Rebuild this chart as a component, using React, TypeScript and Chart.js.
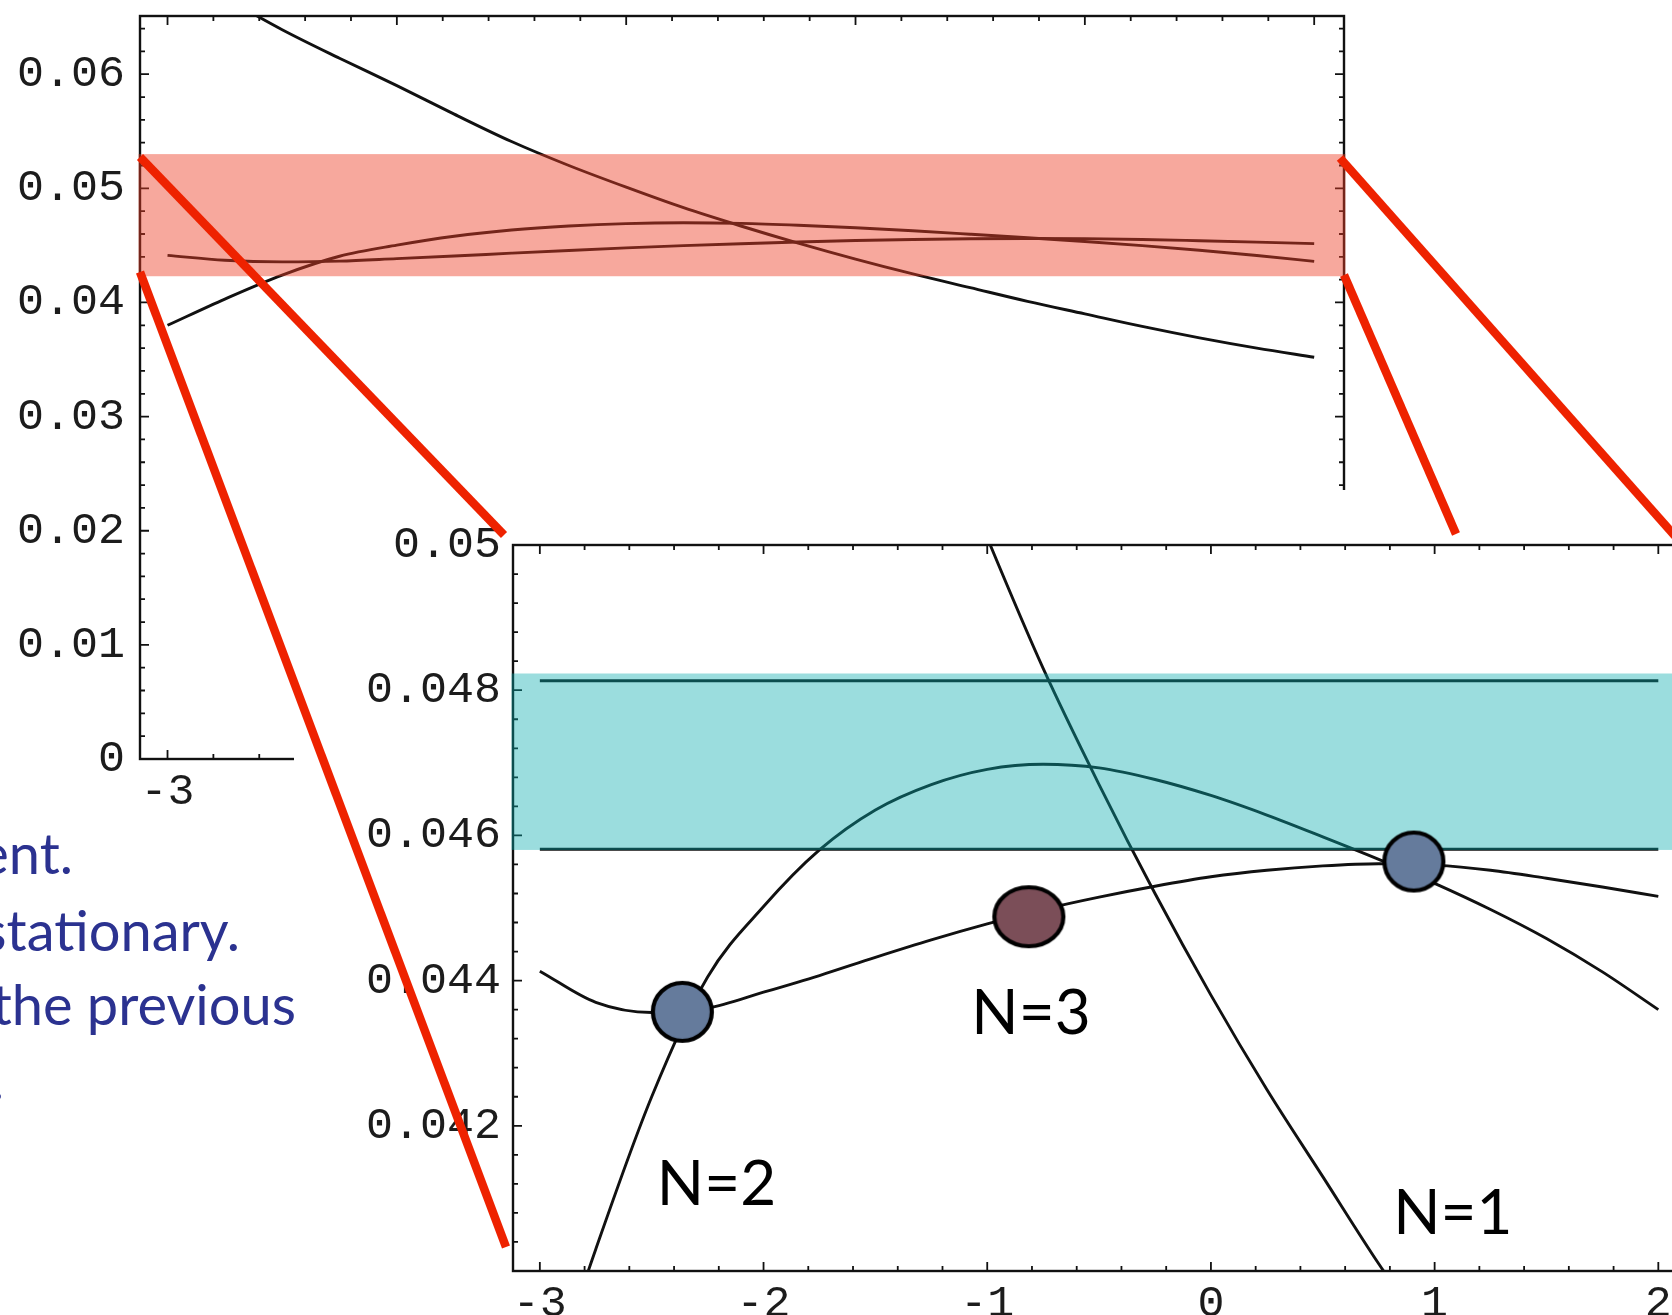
import React, { useEffect, useRef } from "react";
import { Chart, registerables } from "chart.js";

Chart.register(...registerables);

// ---------------- data ----------------
const xValues = [-3, -2.75, -2.5, -2.25, -2, -1.75, -1.5, -1.25, -1, -0.75, -0.5, -0.25, 0, 0.25, 0.5, 0.75, 1, 1.25, 1.5, 1.75, 2];
const curveN1 = [0.0696, 0.0667, 0.0639, 0.0614, 0.059, 0.0565, 0.0541, 0.052, 0.0501, 0.0483, 0.0467, 0.0452, 0.0438, 0.0425, 0.0413, 0.0401, 0.039, 0.0379, 0.0369, 0.036, 0.0352];
const curveN2 = [0.038, 0.0403, 0.0424, 0.04405, 0.04502, 0.0458, 0.04635, 0.0467, 0.04691, 0.04698, 0.04693, 0.04677, 0.04655, 0.04628, 0.04598, 0.04567, 0.04534, 0.04498, 0.04458, 0.04412, 0.0436];
const curveN3 = [0.04413, 0.0437, 0.04356, 0.04362, 0.04384, 0.04407, 0.04432, 0.04456, 0.04478, 0.04498, 0.04515, 0.0453, 0.04543, 0.04552, 0.04558, 0.04561, 0.04559, 0.04552, 0.04541, 0.04529, 0.04516];
const limitLineX = [-3, 2];
const limitLineUpper = [0.04813, 0.04813];
const limitLineLower = [0.04581, 0.04581];
const markerX = [-2.363, -0.814, 0.907];
const markerY = [0.04357, 0.04488, 0.04564];
const markerKind = ["blue", "brown", "blue"];
const curveLabelText = ["N=2", "N=3", "N=1"];
const curveLabelX = [-2.477, -1.071, 0.815];
const curveLabelY = [0.04091, 0.04327, 0.04051];
const xTickValues = [-3, -2, -1, 0, 1, 2];
const mainYTickValues = [0, 0.01, 0.02, 0.03, 0.04, 0.05, 0.06];
const zoomYTickValues = [0.042, 0.044, 0.046, 0.048, 0.05];
const mainBand = [0.0423, 0.053];
const zoomBand = [0.0458, 0.04823];
const slideLines = ["ent.", "stationary.", "the previous", "f."];

// ---------------- layout / style ----------------
const W = 1672;
const H = 1315;
const X_RANGE = [-3.12, 2.13];
const MAIN = { left: 0, top: 0, width: 1672, height: 830, area: { left: 140, top: 16, right: 1344, bottom: 759 }, yRange: [0, 0.0651] };
const ZOOM = { left: 294, top: 490, width: 1420, height: 825, area: { left: 219, top: 55, right: 1393.4, bottom: 781 }, yRange: [0.04, 0.05] };
const TICK_FONT = { family: "'Liberation Mono', 'DejaVu Sans Mono', monospace", size: 45 };
const TICK_COLOR = "#1c1c1c";
const LINE_COLOR = "#111";
const PINK = "rgba(238, 62, 38, 0.45)";
const CYAN = "rgba(5, 170, 172, 0.4)";
const MARKER_FILL: Record<string, string> = { blue: "#657B9C", brown: "#7B4E58" };
const MARKER_SIZE: Record<string, [number, number]> = { blue: [59, 58], brown: [69, 59] };
const connectorLines = [
  [140, 157, 504, 535],
  [140, 272, 506, 1247],
  [1340, 158, 1690, 553],
  [1344, 275, 1456, 534],
];
const slideRightEdge = [73, 240, 296, 4];
const slideBaseline = [874, 951, 1025, 1100];

function makeMarker(kind: string): HTMLCanvasElement {
  const [w, h] = MARKER_SIZE[kind];
  const c = document.createElement("canvas");
  c.width = w + 8;
  c.height = h + 8;
  const g = c.getContext("2d")!;
  g.beginPath();
  g.ellipse(c.width / 2, c.height / 2, w / 2, h / 2, 0, 0, Math.PI * 2);
  g.fillStyle = MARKER_FILL[kind];
  g.fill();
  g.lineWidth = 4.2;
  g.strokeStyle = "#000";
  g.stroke();
  return c;
}

function framePlugin(xMinor: number, yMinor: number) {
  return {
    id: "frame",
    beforeDatasetsDraw(chart: any) {
      const { ctx, chartArea: a, scales } = chart;
      const xs = scales.x;
      const ys = scales.y;
      ctx.save();
      ctx.strokeStyle = LINE_COLOR;
      ctx.lineWidth = 2.4;
      ctx.strokeRect(a.left, a.top, a.right - a.left, a.bottom - a.top);
      ctx.lineWidth = 1.8;
      ctx.beginPath();
      const i0 = Math.ceil(xs.min / xMinor - 1e-9);
      const i1 = Math.floor(xs.max / xMinor + 1e-9);
      for (let i = i0; i <= i1; i++) {
        const p = xs.getPixelForValue(i * xMinor);
        const len = i % 5 === 0 ? 9 : 5;
        ctx.moveTo(p, a.bottom);
        ctx.lineTo(p, a.bottom - len);
        ctx.moveTo(p, a.top);
        ctx.lineTo(p, a.top + len);
      }
      const j0 = Math.ceil(ys.min / yMinor - 1e-9);
      const j1 = Math.floor(ys.max / yMinor + 1e-9);
      for (let j = j0; j <= j1; j++) {
        const p = ys.getPixelForValue(j * yMinor);
        const len = j % 5 === 0 ? 9 : 5;
        ctx.moveTo(a.left, p);
        ctx.lineTo(a.left + len, p);
        ctx.moveTo(a.right, p);
        ctx.lineTo(a.right - len, p);
      }
      ctx.stroke();
      ctx.restore();
    },
  };
}

function fillBand(chart: any, band: number[], color: string) {
  const { ctx, chartArea: a, scales } = chart;
  const yTop = scales.y.getPixelForValue(band[1]);
  const yBot = scales.y.getPixelForValue(band[0]);
  ctx.save();
  ctx.fillStyle = color;
  ctx.fillRect(a.left - 1.5, yTop, a.right - a.left + 3, yBot - yTop);
  ctx.restore();
}

function curveDataset(values: number[]) {
  return {
    data: xValues.map((x, i) => ({ x, y: values[i] })),
    borderColor: LINE_COLOR,
    borderWidth: 2.9,
    pointRadius: 0,
    fill: false,
    cubicInterpolationMode: "monotone" as const,
  };
}

function zeroPadding(s: any) {
  s.paddingTop = 0;
  s.paddingBottom = 0;
  s.paddingLeft = 0;
  s.paddingRight = 0;
}

function baseOptions(box: any, yTicks: number[], yPad: number, xPad: number) {
  return {
    animation: false as const,
    responsive: false,
    maintainAspectRatio: false,
    devicePixelRatio: 1,
    events: [] as any[],
    layout: {
      autoPadding: false,
      padding: { left: 0, top: box.area.top, right: box.width - box.area.right, bottom: 0 },
    },
    plugins: { legend: { display: false }, tooltip: { enabled: false } },
    scales: {
      x: {
        type: "linear" as const,
        min: X_RANGE[0],
        max: X_RANGE[1],
        grid: { display: false, drawTicks: false, tickLength: 0 },
        border: { display: false },
        afterBuildTicks: (s: any) => {
          s.ticks = xTickValues.map((v) => ({ value: v }));
        },
        afterFit: (s: any) => {
          s.height = box.height - box.area.bottom;
          zeroPadding(s);
        },
        ticks: { autoSkip: false, maxRotation: 0, minRotation: 0, padding: xPad, font: TICK_FONT, color: TICK_COLOR, callback: (v: any) => String(v) },
      },
      y: {
        type: "linear" as const,
        min: box.yRange[0],
        max: box.yRange[1],
        grid: { display: false, drawTicks: false, tickLength: 0 },
        border: { display: false },
        afterBuildTicks: (s: any) => {
          s.ticks = yTicks.map((v) => ({ value: v }));
        },
        afterFit: (s: any) => {
          s.width = box.area.left;
          zeroPadding(s);
        },
        ticks: { autoSkip: false, padding: yPad, font: TICK_FONT, color: TICK_COLOR, callback: (v: any) => String(v) },
      },
    },
  };
}

export default function App() {
  const mainRef = useRef<HTMLCanvasElement>(null);
  const zoomRef = useRef<HTMLCanvasElement>(null);

  useEffect(() => {
    const charts: Chart[] = [];

    const mainChart = new Chart(mainRef.current!, {
      type: "line",
      data: { datasets: [curveDataset(curveN1), curveDataset(curveN2), curveDataset(curveN3)] as any },
      options: baseOptions(MAIN, mainYTickValues, 15, 6) as any,
      plugins: [
        framePlugin(0.2, 0.002),
        {
          id: "mainBand",
          afterDatasetsDraw(chart: any) {
            fillBand(chart, mainBand, PINK);
          },
        },
      ],
    });
    charts.push(mainChart);

    const markerImages = markerKind.map((k) => makeMarker(k));
    const limitDataset = (vals: number[]) => ({
      data: limitLineX.map((x, i) => ({ x, y: vals[i] })),
      borderColor: LINE_COLOR,
      borderWidth: 3,
      pointRadius: 0,
      fill: false,
    });
    const zoomChart = new Chart(zoomRef.current!, {
      type: "line",
      data: {
        datasets: [
          {
            data: markerX.map((x, i) => ({ x, y: markerY[i] })),
            showLine: false,
            pointStyle: markerImages,
            pointRadius: 30,
            clip: false,
          },
          curveDataset(curveN1),
          curveDataset(curveN2),
          curveDataset(curveN3),
          limitDataset(limitLineUpper),
          limitDataset(limitLineLower),
        ] as any,
      },
      options: baseOptions(ZOOM, zoomYTickValues, 12, 6) as any,
      plugins: [
        framePlugin(0.2, 0.0004),
        {
          id: "zoomBand",
          afterDatasetDraw(chart: any, args: any) {
            if (args.index === 1) fillBand(chart, zoomBand, CYAN);
          },
          afterDraw(chart: any) {
            const { ctx, scales } = chart;
            ctx.save();
            ctx.font = "62px Lato, 'Open Sans', sans-serif";
            ctx.fillStyle = "#000";
            ctx.textAlign = "left";
            ctx.textBaseline = "alphabetic";
            curveLabelText.forEach((t, i) => {
              ctx.fillText(t, scales.x.getPixelForValue(curveLabelX[i]), scales.y.getPixelForValue(curveLabelY[i]));
            });
            ctx.restore();
          },
        },
      ],
    });
    charts.push(zoomChart);

    return () => charts.forEach((c) => c.destroy());
  }, []);

  return (
    <div style={{ position: "fixed", left: 0, top: 0, width: W, height: H, overflow: "hidden", background: "#fff" }}>
      <canvas
        ref={mainRef}
        width={MAIN.width}
        height={MAIN.height}
        style={{ position: "absolute", left: MAIN.left, top: MAIN.top, width: MAIN.width, height: MAIN.height }}
      />
      <canvas
        ref={zoomRef}
        width={ZOOM.width}
        height={ZOOM.height}
        style={{ position: "absolute", left: ZOOM.left, top: ZOOM.top, width: ZOOM.width, height: ZOOM.height, background: "#fff" }}
      />
      <svg width={W} height={H} style={{ position: "absolute", left: 0, top: 0, pointerEvents: "none" }}>
        {slideLines.map((t, i) => (
          <text
            key={t}
            x={slideRightEdge[i]}
            y={slideBaseline[i]}
            textAnchor="end"
            fontFamily="Lato, 'Open Sans', sans-serif"
            fontSize={56}
            fill="#2B3290"
          >
            {t}
          </text>
        ))}
        {connectorLines.map((l, i) => (
          <line key={i} x1={l[0]} y1={l[1]} x2={l[2]} y2={l[3]} stroke="#EE2200" strokeWidth={8.5} strokeLinecap="butt" />
        ))}
      </svg>
    </div>
  );
}
